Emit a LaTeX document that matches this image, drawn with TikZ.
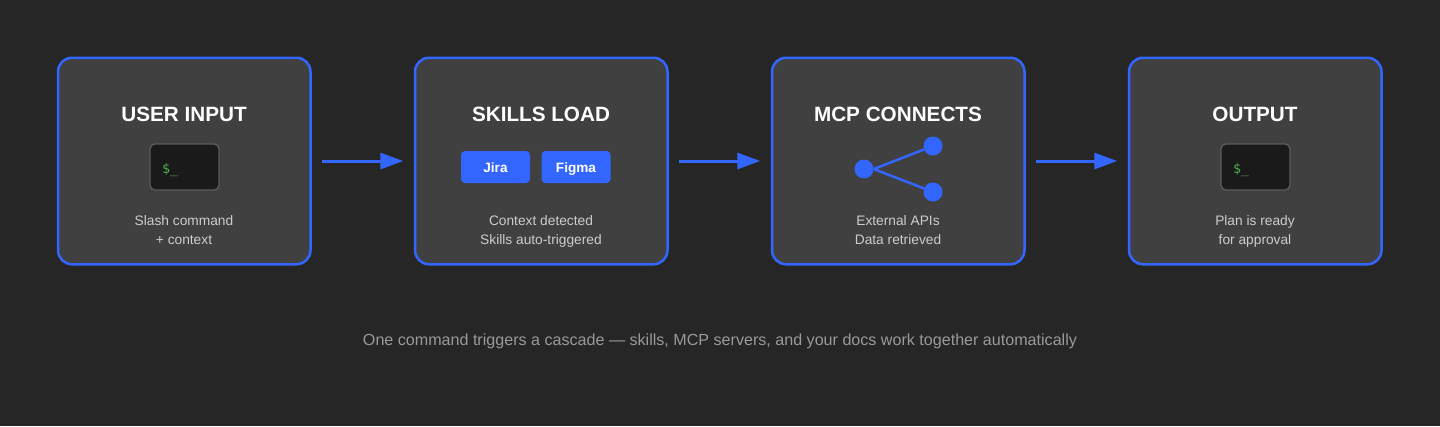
\documentclass[tikz,border=0pt]{standalone}
\usepackage{fontspec}
\setmainfont{Liberation Sans}
\setmonofont{DejaVu Sans Mono}
\usetikzlibrary{arrows.meta}
\definecolor{bgdark}{HTML}{262626}
\definecolor{boxgray}{HTML}{404040}
\definecolor{flowblue}{HTML}{3366FF}
\definecolor{termblack}{HTML}{1A1A1A}
\definecolor{termedge}{HTML}{5C5C5C}
\definecolor{termgreen}{HTML}{4CAF50}
\definecolor{desctext}{HTML}{CCCCCC}
\definecolor{notetext}{HTML}{999999}
\tikzset{
    stage/.style={draw=flowblue, fill=boxgray, line width=2.5pt, rounded corners=14pt,
        minimum width=252.5pt, minimum height=206.5pt, inner sep=0pt},
    flow/.style={draw=flowblue, line width=3pt, shorten <=10.5pt, shorten >=10.5pt,
        -{Triangle[length=23pt,width=16pt]}},
    title/.style={text=white, font=\fontsize{20.7}{25}\selectfont\bfseries, anchor=base},
    desc/.style={text=desctext, font=\fontsize{13.75}{18}\selectfont, align=center, anchor=base},
    term/.style={draw=termedge, fill=termblack, line width=1.3pt, rounded corners=5pt,
        minimum width=69pt, minimum height=46pt, inner sep=0pt},
    prompt/.style={text=termgreen, font=\fontsize{13.3}{16}\selectfont\ttfamily, anchor=base west, inner sep=0pt},
    badge/.style={fill=flowblue, rounded corners=4pt, text=white, minimum width=69pt, minimum height=32pt,
        inner sep=0pt},
    badgetext/.style={text=white, anchor=base, inner sep=0pt, font=\fontsize{13.6}{16}\selectfont\bfseries},
    dot/.style={circle, fill=flowblue, minimum size=19pt, inner sep=0pt},
    wire/.style={draw=flowblue, line width=2.5pt}
}
\begin{document}
\begin{tikzpicture}[x=1pt, y=-1pt]
    \useasboundingbox[fill=bgdark] (0,0) rectangle (1440,426);
    % stages
    \node[stage] (s1) at (184.25,161) {};
    \node[stage] (s2) at (541.25,161) {};
    \node[stage] (s3) at (898.25,161) {};
    \node[stage] (s4) at (1255.25,161) {};
    \draw[flow] (s1) -- (s2);
    \draw[flow] (s2) -- (s3);
    \draw[flow] (s3) -- (s4);
    % titles
    \node[title] (t1) at (184,121.5) {USER INPUT};
    \node[title] (t2) at (541,121.5) {SKILLS LOAD};
    \node[title] (t3) at (898,121.5) {MCP CONNECTS};
    \node[title] (t4) at (1255,121.5) {OUTPUT};
    % first terminal
    \node[term] (c1) at (184.5,167) {};
    \node[prompt] (p1) at (162,173) {\$\_};
    % badges
    \node[badge] (jira) at (495.5,167) {};
    \node[badgetext] (jl) at (495.5,172) {Jira};
    \node[badge] (figma) at (576,167) {};
    \node[badgetext] (fl) at (576,172) {Figma};
    % server dots
    \node[dot] (hub) at (864,169) {};
    \node[dot] (api) at (933,146) {};
    \node[dot] (data) at (933,192) {};
    \draw[wire] (hub.east) -- (api);
    \draw[wire] (hub.east) -- (data);
    % second terminal
    \node[term] (c4) at (1255.5,167) {};
    \node[prompt] (p4) at (1233,173) {\$\_};
    % descriptions
    \node[desc] (d1a) at (184,225) {Slash command};
    \node[desc] (d1b) at (184,244.5) {+ context};
    \node[desc] (d2a) at (541,225) {Context detected};
    \node[desc] (d2b) at (541,244.5) {Skills auto-triggered};
    \node[desc] (d3a) at (898,225) {External APIs};
    \node[desc] (d3b) at (898,244.5) {Data retrieved};
    \node[desc] (d4a) at (1255,225) {Plan is ready};
    \node[desc] (d4b) at (1255,244.5) {for approval};
    \node[anchor=base, text=notetext, font=\fontsize{16.1}{20}\selectfont] (note) at (720,345.5)
        {One command triggers a cascade — skills, MCP servers, and your docs work together automatically};
\end{tikzpicture}
\end{document}
